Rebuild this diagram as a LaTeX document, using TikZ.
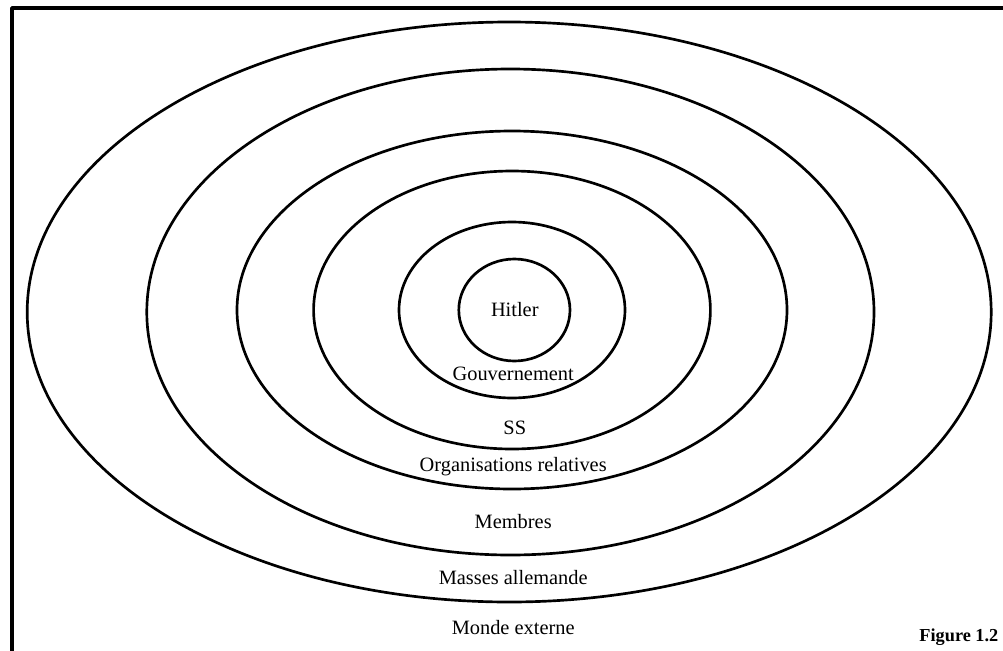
\documentclass[tikz,border=0pt]{standalone}
\usepackage{fontspec}
\setmainfont{Liberation Serif}
\usetikzlibrary{positioning}

\begin{document}
\begin{tikzpicture}[line join=round,
 ring/.style={line width=1.9pt},
 lab/.style={font=\fontsize{14.5}{16}\selectfont,inner sep=1pt}]
\useasboundingbox (0,0) rectangle (25.075,-16.275);
% open frame (cut at right and bottom)
\draw[line width=2.6pt] (0.3,-16.4) -- (0.3,-0.2) -- (25.3,-0.2);
\coordinate (c) at (12.8,-7.75);
\draw[ring] (12.86,-7.75) ellipse [x radius=1.39cm,y radius=1.275cm];
\draw[ring] (c) ellipse [x radius=2.825cm,y radius=2.2cm];
\draw[ring] (c) ellipse [x radius=4.96cm,y radius=3.475cm];
\draw[ring] (c) ellipse [x radius=6.875cm,y radius=4.475cm];
\draw[ring] (12.76,-7.8) ellipse [x radius=9.09cm,y radius=6.075cm];
\draw[ring] (12.73,-7.8) ellipse [x radius=12.05cm,y radius=7.25cm];
\node[lab] (hit) at (12.87,-7.75) {Hitler};
\node[lab] (gov) at (12.83,-9.35) {Gouvernement};
\node[lab] (ss) at (12.87,-10.7) {SS};
\node[lab] (org) at (12.83,-11.67) {Organisations relatives};
\node[lab] (mem) at (12.83,-13.05) {Membres};
\node[lab] (mas) at (12.83,-14.45) {Masses allemande};
\node[lab] (mon) at (12.83,-15.7) {Monde externe};
\node[lab,font=\fontsize{13}{15}\selectfont\bfseries,anchor=east] (fig) at (25.0,-15.93) {Figure 1.2};
\end{tikzpicture}
\end{document}
